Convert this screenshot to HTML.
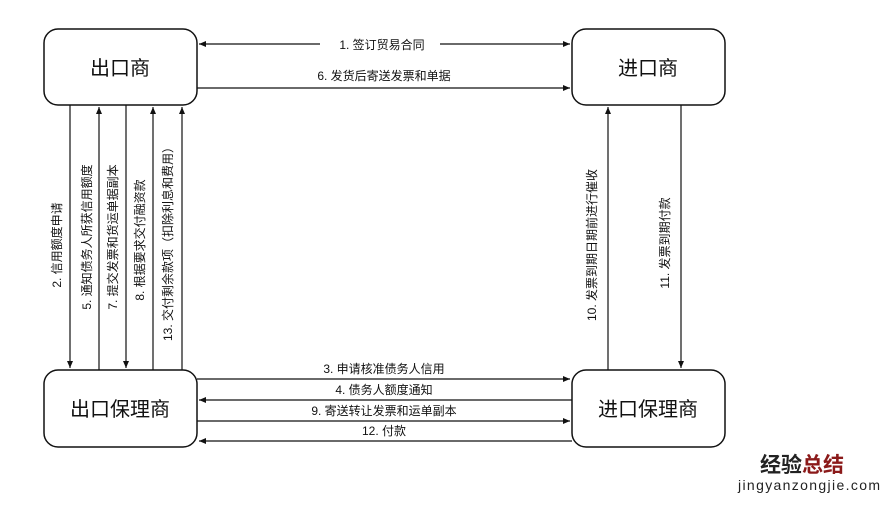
<!DOCTYPE html>
<html><head><meta charset="utf-8"><style>
body{margin:0;background:#fff;}
svg text{font-family:"Liberation Sans","Noto Sans CJK SC",sans-serif;fill:#111;}
</style></head><body>
<svg width="889" height="500" viewBox="0 0 889 500" xmlns="http://www.w3.org/2000/svg">
<defs>
<marker id="a" markerWidth="8" markerHeight="8" refX="7" refY="4" orient="auto" markerUnits="userSpaceOnUse">
<path d="M0,1 L7,4 L0,7 z" fill="#111"/></marker>
</defs>
<g fill="#fff" stroke="#111" stroke-width="1.5">
<rect x="44" y="29" width="153" height="76" rx="14"/>
<rect x="572" y="29" width="153" height="76" rx="14"/>
<rect x="44" y="370" width="153" height="77" rx="14"/>
<rect x="572" y="370" width="153" height="77" rx="14"/>
</g>
<g font-size="20" text-anchor="middle">
<text x="120" y="75">出口商</text>
<text x="648" y="75">进口商</text>
<text x="120" y="416">出口保理商</text>
<text x="648" y="416">进口保理商</text>
</g>
<g stroke="#111" stroke-width="1.2" fill="none">
<line x1="320" y1="44" x2="199" y2="44" marker-end="url(#a)"/>
<line x1="440" y1="44" x2="570" y2="44" marker-end="url(#a)"/>
<line x1="197" y1="88" x2="570" y2="88" marker-end="url(#a)"/>
<line x1="70" y1="105" x2="70" y2="368" marker-end="url(#a)"/>
<line x1="99" y1="370" x2="99" y2="107" marker-end="url(#a)"/>
<line x1="126" y1="105" x2="126" y2="368" marker-end="url(#a)"/>
<line x1="153" y1="370" x2="153" y2="107" marker-end="url(#a)"/>
<line x1="182" y1="370" x2="182" y2="107" marker-end="url(#a)"/>
<line x1="608" y1="370" x2="608" y2="107" marker-end="url(#a)"/>
<line x1="681" y1="105" x2="681" y2="368" marker-end="url(#a)"/>
<line x1="197" y1="379" x2="570" y2="379" marker-end="url(#a)"/>
<line x1="572" y1="400" x2="199" y2="400" marker-end="url(#a)"/>
<line x1="197" y1="421" x2="570" y2="421" marker-end="url(#a)"/>
<line x1="572" y1="441" x2="199" y2="441" marker-end="url(#a)"/>
</g>
<g font-size="12" text-anchor="middle">
<text x="382" y="49">1. 签订贸易合同</text>
<text x="384" y="80">6. 发货后寄送发票和单据</text>
<text x="384" y="373">3. 申请核准债务人信用</text>
<text x="384" y="394">4. 债务人额度通知</text>
<text x="384" y="415">9. 寄送转让发票和运单副本</text>
<text x="384" y="435">12. 付款</text>
<text transform="translate(61,245) rotate(-90)">2. 信用额度申请</text>
<text transform="translate(91,237) rotate(-90)">5. 通知债务人所获信用额度</text>
<text transform="translate(117,237) rotate(-90)">7. 提交发票和货运单据副本</text>
<text transform="translate(144,240) rotate(-90)">8. 根据要求交付融资款</text>
<text transform="translate(172,241) rotate(-90)">13. 交付剩余款项（扣除利息和费用）</text>
<text transform="translate(596,245) rotate(-90)">10. 发票到期日期前进行催收</text>
<text transform="translate(669,243) rotate(-90)">11. 发票到期付款</text>
</g>
<text x="760" y="472" font-size="21" font-weight="bold" style="fill:#222">经验<tspan style="fill:#8b1a1a">总结</tspan></text>
<text x="738" y="490" font-size="14" textLength="142" style="fill:#222">jingyanzongjie.com</text>
</svg>
</body></html>
